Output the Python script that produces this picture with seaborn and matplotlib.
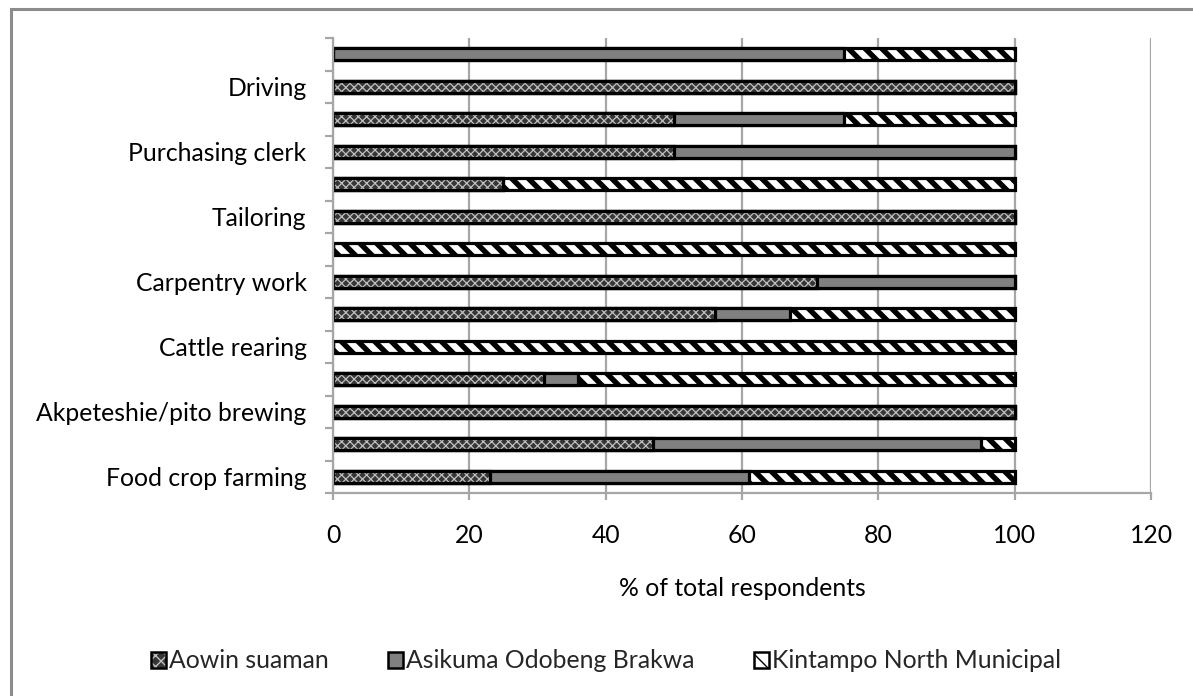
import numpy as np
import pandas as pd
import matplotlib
matplotlib.use("Agg")
import matplotlib.pyplot as plt
import matplotlib.patches as mpatches
from matplotlib.legend_handler import HandlerTuple
import seaborn as sns

# ---- data (bottom row first) ----
categories = ["Food crop farming", "", "Akpeteshie/pito brewing", "", "Cattle rearing", "",
              "Carpentry work", "", "Tailoring", "", "Purchasing clerk", "", "Driving", ""]
aowin    = [23, 47, 100, 31, 0, 56, 71, 0, 100, 25, 50, 50, 100, 0]
asikuma  = [38, 48, 0, 5, 0, 11, 29, 0, 0, 0, 50, 25, 0, 75]
kintampo = [39, 5, 0, 64, 100, 33, 0, 100, 0, 75, 0, 25, 0, 25]
series_names = ["Aowin suaman", "Asikuma Odobeng Brakwa", "Kintampo North Municipal"]
xticks = [0, 20, 40, 60, 80, 100, 120]
xlabel = "% of total respondents"

sns.set_theme(style="white")
plt.rcParams["font.family"] = ["Lato", "DejaVu Sans"]
FS = 17.8

W, H = 1193, 696
fig = plt.figure(figsize=(W / 100, H / 100), dpi=100)
ax = fig.add_axes([333 / W, 1 - 493 / H, (1151 - 333) / W, (493 - 38) / H])

n = len(categories)
row_ids = [f"r{i}" for i in range(n)]
order = row_ids[::-1]  # top to bottom
df = pd.DataFrame({"row": row_ids,
                   "a": aowin, "b": asikuma, "c": kintampo})
df["ab"] = df["a"] + df["b"]
df["abc"] = df["ab"] + df["c"]

AOWIN_FACE, AOWIN_HATCH = "#363636", "#c0c0c0"
styles = [
    # (column, face, hatch, hatchcolor, hatch lw)
    ("abc", "white", "\\\\", "black", 3.9),
    ("ab", "#808080", None, "#808080", 1.0),
    ("a", AOWIN_FACE, "xxxx", AOWIN_HATCH, 0.9),
]
BAR_W = 0.36
EDGE_LW = 2.3

for col, face, hatch, hcol, hlw in styles:
    before = len(ax.patches)
    sns.barplot(data=df, x=col, y="row", order=order, orient="h", ax=ax,
                color=face, width=BAR_W, linewidth=0, edgecolor=hcol,
                hatch=hatch, saturation=1, errorbar=None)
    for p in ax.patches[before:]:
        p.set_facecolor(face)
        p.set_edgecolor(hcol)
        p.set_linewidth(0)
        if hatch:
            p.set_hatch(hatch)
            if hasattr(p, "set_hatch_linewidth"):
                p.set_hatch_linewidth(hlw)
    before = len(ax.patches)
    sns.barplot(data=df, x=col, y="row", order=order, orient="h", ax=ax,
                fill=False, width=BAR_W, linewidth=EDGE_LW, edgecolor="black",
                saturation=1, errorbar=None)
    for p in ax.patches[before:]:
        p.set_fill(False)
        p.set_edgecolor("black")
        p.set_linewidth(EDGE_LW)
        p.set_joinstyle("miter")

GRID = "#a6a6a6"
ax.set_xlim(0, 120)
ax.set_ylim(n - 0.5, -0.5)
ax.set_xticks(xticks)
ax.set_xticklabels([str(t) for t in xticks], fontsize=FS)
ax.xaxis.grid(True, color=GRID, linewidth=1.6)
ax.yaxis.grid(False)
ax.set_axisbelow(True)

ax.set_yticks(range(n))
ax.set_yticklabels(categories[::-1], fontsize=FS)
ax.set_yticks(np.arange(-0.5, n, 1.0), minor=True)
ax.tick_params(axis="y", which="major", length=0, pad=19, colors="black")
ax.tick_params(axis="y", which="minor", length=6, width=1.6, color=GRID, direction="out", left=True)
ax.tick_params(axis="x", which="major", length=5, width=1.6, color=GRID, direction="out",
               bottom=True, pad=17, labelcolor="black")
ax.set_ylabel("")
for s in ["top", "right"]:
    ax.spines[s].set_visible(False)
for s in ["left", "bottom"]:
    ax.spines[s].set_color(GRID)
    ax.spines[s].set_linewidth(1.6)

ax.set_xlabel(xlabel, fontsize=FS, color="black", va="center")
ax.xaxis.set_label_coords(0.5, -(588 - 493) / (493 - 38))

# legend
handles = []
for face, hatch, hcol, hlw in [(AOWIN_FACE, "xxx", AOWIN_HATCH, 0.9),
                               ("#808080", None, "#808080", 1.0),
                               ("white", "\\", "black", 3.0)]:
    f = mpatches.Patch(facecolor=face, edgecolor=hcol, hatch=hatch, linewidth=0)
    if hatch and hasattr(f, "set_hatch_linewidth"):
        f.set_hatch_linewidth(hlw)
    o = mpatches.Patch(fill=False, edgecolor="black", linewidth=1.8)
    handles.append((f, o))
leg = fig.legend(handles, series_names, loc="center", bbox_to_anchor=(606 / W, 1 - 661 / H),
                 ncol=3, frameon=False, fontsize=FS, handlelength=0.62, handleheight=0.62,
                 handletextpad=0.12, columnspacing=2.4,
                 handler_map={tuple: HandlerTuple(ndivide=1, pad=0)})

# outer chart border
fig.patches.append(mpatches.Rectangle((11 / W, -0.1), 1.2, 1 - 9 / H + 0.1, transform=fig.transFigure,
                                      fill=False, edgecolor="#8c8c8c", linewidth=2.2, zorder=-1))

fig.savefig("out.png", dpi=100)
